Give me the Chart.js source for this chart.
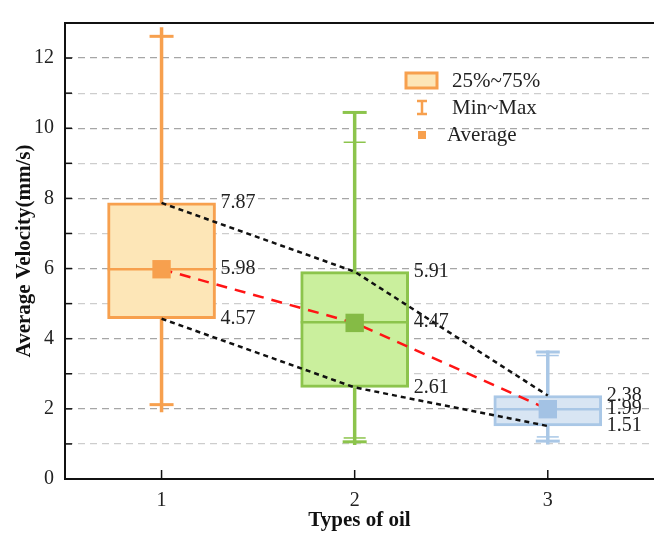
<!DOCTYPE html>
<html>
<head>
<meta charset="utf-8">
<script src="https://cdn.jsdelivr.net/npm/chart.js@4.4.1/dist/chart.umd.min.js"></script>
<style>
  html, body { margin: 0; padding: 0; background: #fff; overflow: hidden; }
  canvas { display: block; }
</style>
</head>
<body>
<canvas id="boxChart" width="654" height="533"></canvas>
<script>
// oil types on the x axis
const categories = [1, 2, 3];
// box statistics
const q1 = [4.57, 2.61, 1.51];
const median = [5.98, 4.47, 1.99];
const q3 = [7.87, 5.91, 2.38];
const mean = [5.98, 4.45, 1.99];
const minVal = [2.12, 1.06, 1.08];
const maxVal = [12.62, 10.45, 3.62];
const lowEnd = [1.9, 0.97, 0.98];
const highEnd = [12.88, 10.47, 3.66];
const lowMark = [null, 1.17, 1.2];
const highMark = [null, 9.6, 3.52];
const yTicks = [0, 1, 2, 3, 4, 5, 6, 7, 8, 9, 10, 11, 12, 13];

const edgeColors = ['#f7a04e', '#8cc44c', '#a9c7e6'];
const fillColors = ['#fde6b7', '#caef9d', '#d8e5f3'];
const meanColors = ['#f7a04e', '#85bb45', '#a3c2e4'];
const serif = "'Liberation Serif', 'Times New Roman', serif";
const halfBox = 54;

const ctx = document.getElementById('boxChart').getContext('2d');

const boxExtras = {
  id: 'boxExtras',
  afterDatasetDraw(chart, args) {
    if (args.index !== 0) return;
    const c = chart.ctx, xs = chart.scales.x, ys = chart.scales.y;
    c.save();
    categories.forEach((cat, i) => {
      const x = xs.getPixelForValue(cat);
      c.strokeStyle = edgeColors[i];
      // whiskers
      c.lineWidth = 3.5;
      c.beginPath();
      c.moveTo(x, ys.getPixelForValue(q3[i]));
      c.lineTo(x, ys.getPixelForValue(highEnd[i]));
      c.moveTo(x, ys.getPixelForValue(q1[i]));
      c.lineTo(x, ys.getPixelForValue(lowEnd[i]));
      c.stroke();
      // min / max caps
      c.lineWidth = 3;
      [minVal[i], maxVal[i]].forEach(v => {
        const y = ys.getPixelForValue(v);
        c.beginPath(); c.moveTo(x - 12, y); c.lineTo(x + 12, y); c.stroke();
      });
      // thin extra marks
      c.lineWidth = 1.5;
      [lowMark[i], highMark[i]].forEach(v => {
        if (v === null) return;
        const y = ys.getPixelForValue(v);
        c.beginPath(); c.moveTo(x - 11, y); c.lineTo(x + 11, y); c.stroke();
      });
      // median
      c.lineWidth = 2.5;
      const ym = ys.getPixelForValue(median[i]);
      c.beginPath(); c.moveTo(x - halfBox, ym); c.lineTo(x + halfBox, ym); c.stroke();
    });
    c.restore();
  },
  afterDatasetsDraw(chart) {
    const c = chart.ctx, xs = chart.scales.x, ys = chart.scales.y;
    c.save();
    c.font = '20px ' + serif;
    c.fillStyle = '#222';
    c.textAlign = 'left';
    c.textBaseline = 'middle';
    categories.forEach((cat, i) => {
      const x = xs.getPixelForValue(cat) + halfBox + 5;
      [q3[i], median[i], q1[i]].forEach(v => {
        c.fillText(v.toFixed(2), x, ys.getPixelForValue(v));
      });
    });
    c.restore();
  },
  afterDraw(chart) {
    const c = chart.ctx, xs = chart.scales.x, ys = chart.scales.y;
    const a = chart.chartArea;
    c.save();
    c.strokeStyle = '#111';
    // top frame
    c.lineWidth = 2;
    c.beginPath(); c.moveTo(a.left - 1, a.top); c.lineTo(a.right, a.top); c.stroke();
    // inside ticks
    c.lineWidth = 1.5;
    yTicks.forEach(v => {
      const y = ys.getPixelForValue(v);
      c.beginPath(); c.moveTo(a.left, y); c.lineTo(a.left + 7, y); c.stroke();
    });
    categories.forEach(v => {
      const x = xs.getPixelForValue(v);
      c.beginPath(); c.moveTo(x, a.bottom); c.lineTo(x, a.bottom - 9); c.stroke();
    });
    // legend
    c.fillStyle = fillColors[0];
    c.strokeStyle = edgeColors[0];
    c.lineWidth = 3;
    c.fillRect(406, 73, 31, 15);
    c.strokeRect(406, 73, 31, 15);
    c.lineWidth = 2.5;
    c.beginPath();
    c.moveTo(422, 101); c.lineTo(422, 114);
    c.moveTo(417, 101); c.lineTo(427, 101);
    c.moveTo(417, 114); c.lineTo(427, 114);
    c.stroke();
    c.fillStyle = edgeColors[0];
    c.fillRect(418, 131, 8, 8);
    c.fillStyle = '#222';
    c.font = '21px ' + serif;
    c.textBaseline = 'middle';
    c.fillText('25%~75%', 452, 81);
    c.fillText('Min~Max', 452, 108);
    c.fillText('Average', 447, 135);
    c.restore();
  }
};

new Chart(ctx, {
  data: {
    datasets: [
      {
        type: 'bar',
        data: categories.map((c, i) => ({ x: c, y: [q1[i], q3[i]] })),
        backgroundColor: fillColors,
        borderColor: edgeColors,
        borderWidth: 3,
        borderSkipped: false,
        barThickness: halfBox * 2,
        order: 3
      },
      {
        type: 'line',
        data: categories.map((c, i) => ({ x: c, y: q3[i] })),
        borderColor: '#111',
        borderWidth: 2.5,
        borderDash: [5, 4],
        pointRadius: 0,
        order: 2
      },
      {
        type: 'line',
        data: categories.map((c, i) => ({ x: c, y: q1[i] })),
        borderColor: '#111',
        borderWidth: 2.5,
        borderDash: [5, 4],
        pointRadius: 0,
        order: 2
      },
      {
        type: 'line',
        data: categories.map((c, i) => ({ x: c, y: mean[i] })),
        borderColor: '#ff1414',
        borderWidth: 2.5,
        borderDash: [11, 8],
        pointRadius: 0,
        order: 2
      },
      {
        type: 'line',
        data: categories.map((c, i) => ({ x: c, y: mean[i] })),
        showLine: false,
        pointStyle: 'rect',
        pointRadius: 13,
        pointBorderWidth: 0,
        pointBackgroundColor: meanColors,
        order: 1
      }
    ]
  },
  plugins: [boxExtras],
  options: {
    responsive: false,
    animation: false,
    layout: { autoPadding: false, padding: { top: 13, left: 0, right: 0, bottom: 0 } },
    plugins: { legend: { display: false }, tooltip: { enabled: false } },
    scales: {
      x: {
        type: 'linear',
        min: 0.5,
        max: 3.55,
        offset: false,
        afterBuildTicks: s => { s.ticks = categories.map(v => ({ value: v })); },
        afterFit: s => { s.height = 54; s.paddingRight = 0; s.paddingLeft = 0; },
        grid: { display: false, drawTicks: false, offset: false },
        border: { display: true, color: '#111', width: 2 },
        ticks: { padding: 10, color: '#222', font: { family: serif, size: 20 } },
        title: {
          display: true,
          text: 'Types of oil',
          color: '#111',
          font: { family: serif, size: 21, weight: 'bold' },
          padding: { top: 0, bottom: 0 }
        }
      },
      y: {
        min: 0,
        max: 13,
        afterBuildTicks: s => { s.ticks = yTicks.map(v => ({ value: v })); },
        afterFit: s => { s.width = 65; },
        grid: {
          drawTicks: false,
          lineWidth: 1.3,
          color: c => {
            const v = c.tick ? c.tick.value : 0;
            if (v === 0 || v === 13) return 'rgba(0,0,0,0)';
            return v % 2 === 0 ? '#a6a6a6' : '#cdcdcd';
          }
        },
        border: { display: true, color: '#111', width: 2, dash: [7, 5] },
        ticks: {
          padding: 11,
          color: '#222',
          font: { family: serif, size: 20 },
          callback: v => (v % 2 === 0 ? v : '')
        },
        title: {
          display: true,
          text: 'Average Velocity(mm/s)',
          color: '#111',
          font: { family: serif, size: 21, weight: 'bold' },
          padding: { top: 12, bottom: 0 }
        }
      }
    }
  }
});
</script>
</body>
</html>
